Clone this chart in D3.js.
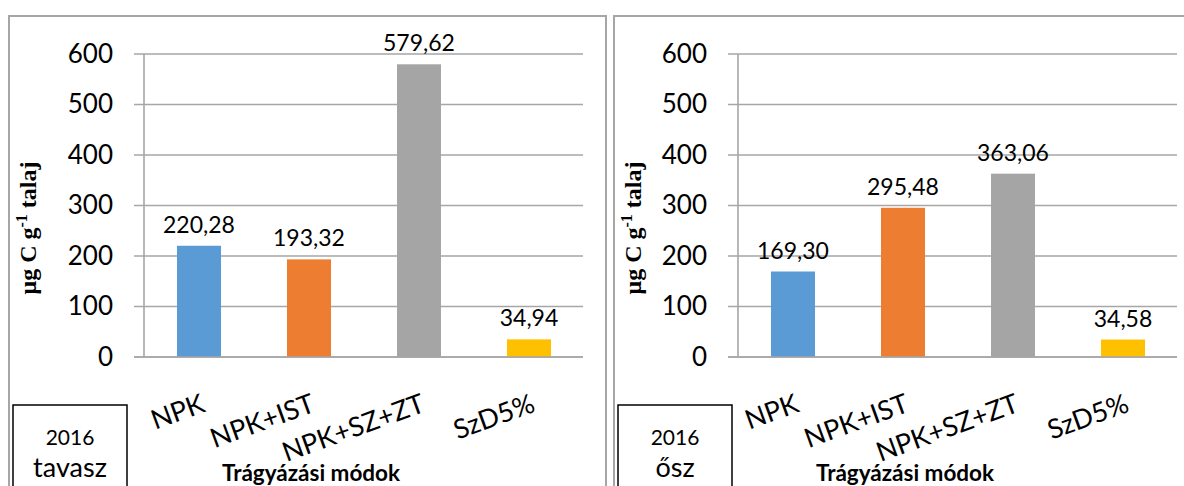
<!DOCTYPE html>
<html>
<head>
<meta charset="utf-8">
<script src="https://cdn.jsdelivr.net/npm/d3@7"></script>
<style>
  html, body { margin: 0; padding: 0; background: #ffffff; }
  svg { display: block; }
</style>
</head>
<body>
<svg id="chart" width="1184" height="486"></svg>
<script>
// ---- data ----
const categories = ["NPK", "NPK+IST", "NPK+SZ+ZT", "SzD5%"];
const springValues = [220.28, 193.32, 579.62, 34.94];
const autumnValues = [169.30, 295.48, 363.06, 34.58];
const barColors = ["#5b9bd5", "#ed7d31", "#a5a5a5", "#ffc000"];
const yTicks = [0, 100, 200, 300, 400, 500, 600];
const panelYears = ["2016", "2016"];
const panelSeasons = ["tavasz", "ősz"];
const xTitle = "Trágyázási módok";

// ---- layout ----
const svg = d3.select("#chart");
const W = 1184, H = 486;
const panels = [
  { values: springValues, frameX: 9, frameW: 597, axisX: 144, season: panelSeasons[0], year: panelYears[0] },
  { values: autumnValues, frameX: 614, frameW: 600, axisX: 738, season: panelSeasons[1], year: panelYears[1] }
];
const plotTop = 54, plotBottom = 357, plotWidth = 440;
const fmtLocale = d3.formatLocale({ decimal: ",", thousands: " ", grouping: [3], currency: ["", ""] });
const fmt = fmtLocale.format(".2f");
const sansFont = "Lato, 'Open Sans', sans-serif";

const y = d3.scaleLinear().domain([0, 600]).range([plotBottom, plotTop]);
const x = d3.scaleBand().domain(categories).range([0, plotWidth]).paddingInner(0.6).paddingOuter(0.3);

panels.forEach(p => {
  // outer frame
  svg.append("rect")
    .attr("x", p.frameX).attr("y", 16)
    .attr("width", p.frameW).attr("height", H + 20)
    .attr("fill", "#fff").attr("stroke", "#a6a6a6").attr("stroke-width", 2);

  const g = svg.append("g").attr("transform", `translate(${p.axisX},0)`);

  // gridlines (extending left as tick marks)
  g.selectAll("line.grid").data(yTicks).join("line")
    .attr("class", "grid")
    .attr("x1", -10).attr("x2", plotWidth - 1)
    .attr("y1", d => y(d)).attr("y2", d => y(d))
    .attr("stroke", "#a6a6a6").attr("stroke-width", 1.6);

  // y axis line
  g.append("line")
    .attr("x1", 0).attr("x2", 0)
    .attr("y1", y(600)).attr("y2", y(0))
    .attr("stroke", "#a6a6a6").attr("stroke-width", 1.6);

  // tick labels via axis
  const yAxis = d3.axisLeft(y).tickValues(yTicks).tickSize(0).tickPadding(31).tickFormat(d3.format("d"));
  const ag = g.append("g").call(yAxis);
  ag.select(".domain").remove();
  ag.selectAll("text")
    .attr("font-family", sansFont)
    .attr("font-size", 26).attr("fill", "#000");

  // bars
  g.selectAll("rect.bar").data(categories).join("rect")
    .attr("class", "bar")
    .attr("x", d => x(d)).attr("width", x.bandwidth())
    .attr("y", (d, i) => y(p.values[i]))
    .attr("height", (d, i) => y(0) - y(p.values[i]))
    .attr("fill", (d, i) => barColors[i]);

  // baseline over bars
  g.append("line")
    .attr("x1", -10).attr("x2", plotWidth - 1)
    .attr("y1", y(0)).attr("y2", y(0))
    .attr("stroke", "#a6a6a6").attr("stroke-width", 1.6);

  // value labels
  g.selectAll("text.val").data(categories).join("text")
    .attr("class", "val")
    .attr("x", d => x(d) + x.bandwidth() / 2)
    .attr("y", (d, i) => y(p.values[i]) - 13)
    .attr("text-anchor", "middle")
    .attr("font-family", sansFont)
    .attr("font-size", 23).attr("fill", "#000")
    .text((d, i) => fmt(p.values[i]));

  // category labels (rotated)
  g.selectAll("text.cat").data(categories).join("text")
    .attr("class", "cat")
    .attr("transform", d => `translate(${x(d) + x.bandwidth() / 2 + 1},${plotBottom + 36}) rotate(-20)`)
    .attr("text-anchor", "end")
    .attr("dy", "0.71em")
    .attr("font-family", sansFont)
    .attr("font-size", 27).attr("fill", "#000")
    .text(d => d);

  // x axis title
  svg.append("text")
    .attr("x", p.axisX + 167).attr("y", 481)
    .attr("text-anchor", "middle")
    .attr("font-family", sansFont)
    .attr("font-weight", "bold")
    .attr("font-size", 22.5).attr("fill", "#000")
    .text(xTitle);

  // y axis title
  const yt = svg.append("text")
    .attr("transform", `translate(${p.frameX + 27},228) rotate(-90)`)
    .attr("text-anchor", "middle")
    .attr("font-family", "'Liberation Serif', 'Times New Roman', serif")
    .attr("font-weight", "bold")
    .attr("font-size", 24).attr("fill", "#000");
  yt.append("tspan").text("μg C g");
  yt.append("tspan").attr("dy", -9).attr("font-size", 16).text("-1");
  yt.append("tspan").attr("dy", 9).text(" talaj");

  // season box
  const bx = p.frameX + 4;
  svg.append("rect")
    .attr("x", bx).attr("y", 405)
    .attr("width", 114).attr("height", 100)
    .attr("fill", "#fff").attr("stroke", "#000").attr("stroke-width", 1.5);
  svg.append("text")
    .attr("x", bx + 57).attr("y", 445)
    .attr("text-anchor", "middle")
    .attr("font-family", sansFont)
    .attr("font-size", 21).attr("fill", "#000")
    .text(p.year);
  svg.append("text")
    .attr("x", bx + 57).attr("y", 477)
    .attr("text-anchor", "middle")
    .attr("font-family", sansFont)
    .attr("font-size", 27).attr("fill", "#000")
    .text(p.season);
});
</script>
</body>
</html>
